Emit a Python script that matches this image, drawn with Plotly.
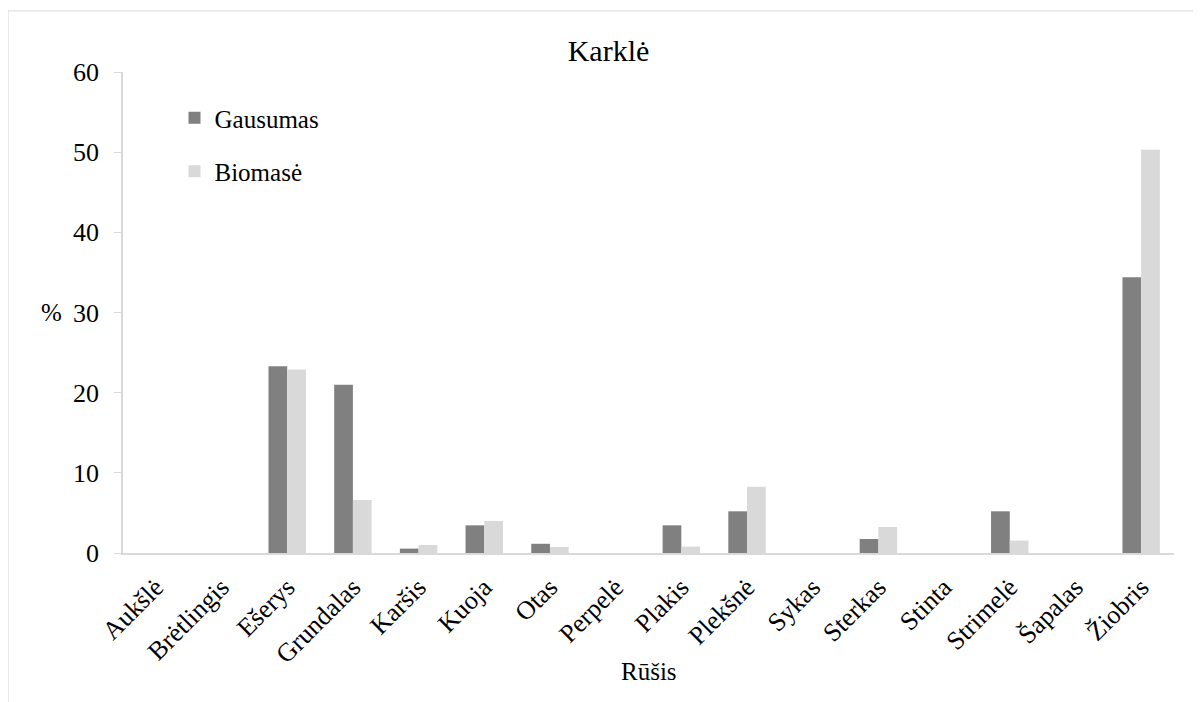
import plotly.graph_objects as go

categories = ["Aukšlė", "Brėtlingis", "Ešerys", "Grundalas", "Karšis", "Kuoja", "Otas",
              "Perpelė", "Plakis", "Plekšnė", "Sykas", "Sterkas", "Stinta", "Strimelė",
              "Šapalas", "Žiobris"]
gausumas = [0, 0, 23.3, 21.0, 0.55, 3.45, 1.15, 0, 3.45, 5.2, 0, 1.75, 0, 5.2, 0, 34.4]
biomase = [0, 0, 22.9, 6.6, 1.0, 4.0, 0.75, 0, 0.8, 8.25, 0, 3.25, 0, 1.55, 0, 50.3]

FONT = "Liberation Serif"

fig = go.Figure()
fig.add_trace(go.Bar(x=categories, y=gausumas, name="Gausumas",
                     marker=dict(color="#808080", line=dict(width=0)), legendgroup="a"))
fig.add_trace(go.Bar(x=categories, y=biomase, name="Biomasė",
                     marker=dict(color="#d9d9d9", line=dict(width=0)), legendgroup="b"))

fig.update_layout(
    width=1201, height=702,
    paper_bgcolor="white", plot_bgcolor="white",
    font=dict(family=FONT, size=24, color="black"),
    margin=dict(l=115, r=35, t=64, b=157),
    barmode="group", bargap=0.43, bargroupgap=0,
    title=dict(text="Karklė", x=0.5, xanchor="center", y=0.94, yanchor="middle",
               font=dict(family=FONT, size=30, color="black")),
    showlegend=True,
    legend=dict(x=0.049, y=0.952, xanchor="left", yanchor="top",
                font=dict(family=FONT, size=25), tracegroupgap=18,
                bgcolor="rgba(0,0,0,0)", itemwidth=30),
    xaxis=dict(showline=True, linecolor="#d9d9d9", linewidth=1.5, ticks="",
               tickangle=-45, tickfont=dict(family=FONT, size=26), ticklabelstandoff=7,
               showgrid=False),
    yaxis=dict(range=[0, 60], dtick=10, showline=True, linecolor="#d9d9d9", linewidth=1.5,
               ticks="outside", ticklen=7, tickcolor="#d9d9d9", ticklabelstandoff=10,
               tickfont=dict(family=FONT, size=26), showgrid=False, zeroline=False),
)

fig.add_annotation(text="%", xref="paper", yref="paper", x=-0.0676, y=0.499,
                   xanchor="center", yanchor="middle",
                   showarrow=False, font=dict(family=FONT, size=25))
fig.add_annotation(text="Rūšis", xref="paper", yref="paper", x=0.5, y=-0.247,
                   xanchor="center", yanchor="middle",
                   showarrow=False, font=dict(family=FONT, size=25))

fig.add_shape(type="rect", xref="paper", yref="paper",
              x0=-0.1094, y0=-0.45, x1=1.1, y1=1.127,
              line=dict(color="#d9d9d9", width=1), fillcolor="rgba(0,0,0,0)", layer="below")

fig.write_html("out.html")
